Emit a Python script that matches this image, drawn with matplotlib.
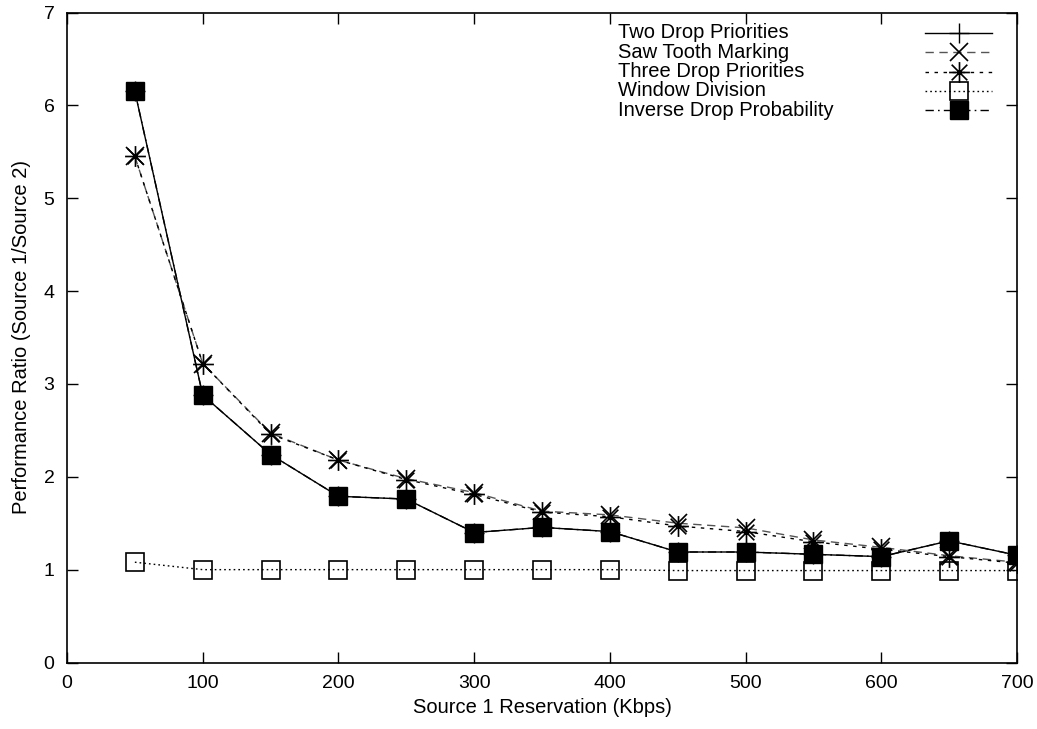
import matplotlib
matplotlib.use("Agg")
import matplotlib.pyplot as plt
from matplotlib.path import Path
from matplotlib.lines import Line2D

plt.rcParams['font.family'] = ['Liberation Sans', 'DejaVu Sans']

reservation = [50, 100, 150, 200, 250, 300, 350, 400, 450, 500, 550, 600, 650, 700]
two_drop = [6.15, 2.88, 2.24, 1.79, 1.76, 1.40, 1.455, 1.41, 1.19, 1.19, 1.165, 1.14, 1.31, 1.155]
saw_tooth = [5.45, 3.22, 2.47, 2.18, 1.98, 1.83, 1.63, 1.59, 1.50, 1.45, 1.32, 1.24, 1.15, 1.08]
three_drop = [5.45, 3.22, 2.46, 2.18, 1.97, 1.81, 1.62, 1.57, 1.47, 1.41, 1.30, 1.22, 1.14, 1.07]
window_div = [1.08, 1.0, 1.0, 1.0, 1.0, 1.0, 1.0, 1.0, 0.99, 0.99, 0.99, 0.99, 0.99, 0.99]
inverse_drop = [6.15, 2.88, 2.24, 1.79, 1.76, 1.40, 1.455, 1.41, 1.19, 1.19, 1.165, 1.14, 1.31, 1.155]

labels = ["Two Drop Priorities", "Saw Tooth Marking", "Three Drop Priorities",
          "Window Division", "Inverse Drop Probability"]
xticks = [0, 100, 200, 300, 400, 500, 600, 700]
yticks = [0, 1, 2, 3, 4, 5, 6, 7]

star = Path([(-1, 0), (1, 0), (0, -1), (0, 1), (-0.75, -0.75), (0.75, 0.75),
             (-0.75, 0.75), (0.75, -0.75)],
            [Path.MOVETO, Path.LINETO] * 4)

W, H = 1037, 729
fig = plt.figure(figsize=(W / 100, H / 100), dpi=100)
ax = fig.add_axes([67 / W, 1 - 662.5 / H, (1017 - 67) / W, (662.5 - 12.5) / H])

styles = [
    dict(color='black', ls='-', marker='+', ms=15, mew=1.0),
    dict(color='#555555', ls=(0, (6, 4)), marker='x', ms=13, mew=1.2, mec='black'),
    dict(color='black', ls=(0, (2.5, 4)), marker=star, ms=15, mew=1.2, mfc='none'),
    dict(color='black', ls=(0, (1.2, 2.2)), marker='s', ms=13, mew=1.2, mfc='none'),
    dict(color='black', ls=(0, (6, 3, 1.2, 3)), marker='s', ms=13, mew=1.0, mfc='black'),
]
series = [two_drop, saw_tooth, three_drop, window_div, inverse_drop]

for vals, st in zip(series, styles):
    ax.plot(reservation, vals, lw=1.0, **st)

ax.set_xlim(0, 700)
ax.set_ylim(0, 7)
ax.set_xticks(xticks)
ax.set_yticks(yticks)
ax.tick_params(direction='in', length=8, width=1.0, top=True, right=True,
               labelsize=14, pad=9)
for s in ax.spines.values():
    s.set_linewidth(1.2)

ax.set_xlabel("Source 1 Reservation (Kbps)", fontsize=14.5, labelpad=4.5)
ax.set_ylabel("Performance Ratio (Source 1/Source 2)", fontsize=14.5, labelpad=9)

# gnuplot-style key: left-aligned text, sample on the right
row_y = [33, 52, 71.5, 90.5, 110]
for lab, st, ry in zip(labels, styles, row_y):
    yf = 1 - ry / H
    fig.text(618 / W, yf, lab, fontsize=14.5, ha='left', va='center')
    line_st = {k: v for k, v in st.items() if k in ('color', 'ls')}
    fig.add_artist(Line2D([925 / W, 992 / W], [yf, yf], lw=1.0,
                          transform=fig.transFigure, **line_st))
    mk_st = {k: v for k, v in st.items() if k not in ('ls',)}
    if 'mec' not in mk_st:
        mk_st['mec'] = st['color']
    mk_st.pop('color')
    fig.add_artist(Line2D([958.5 / W], [yf], ls='none',
                          transform=fig.transFigure, **mk_st))

fig.savefig("out.png", dpi=100)
